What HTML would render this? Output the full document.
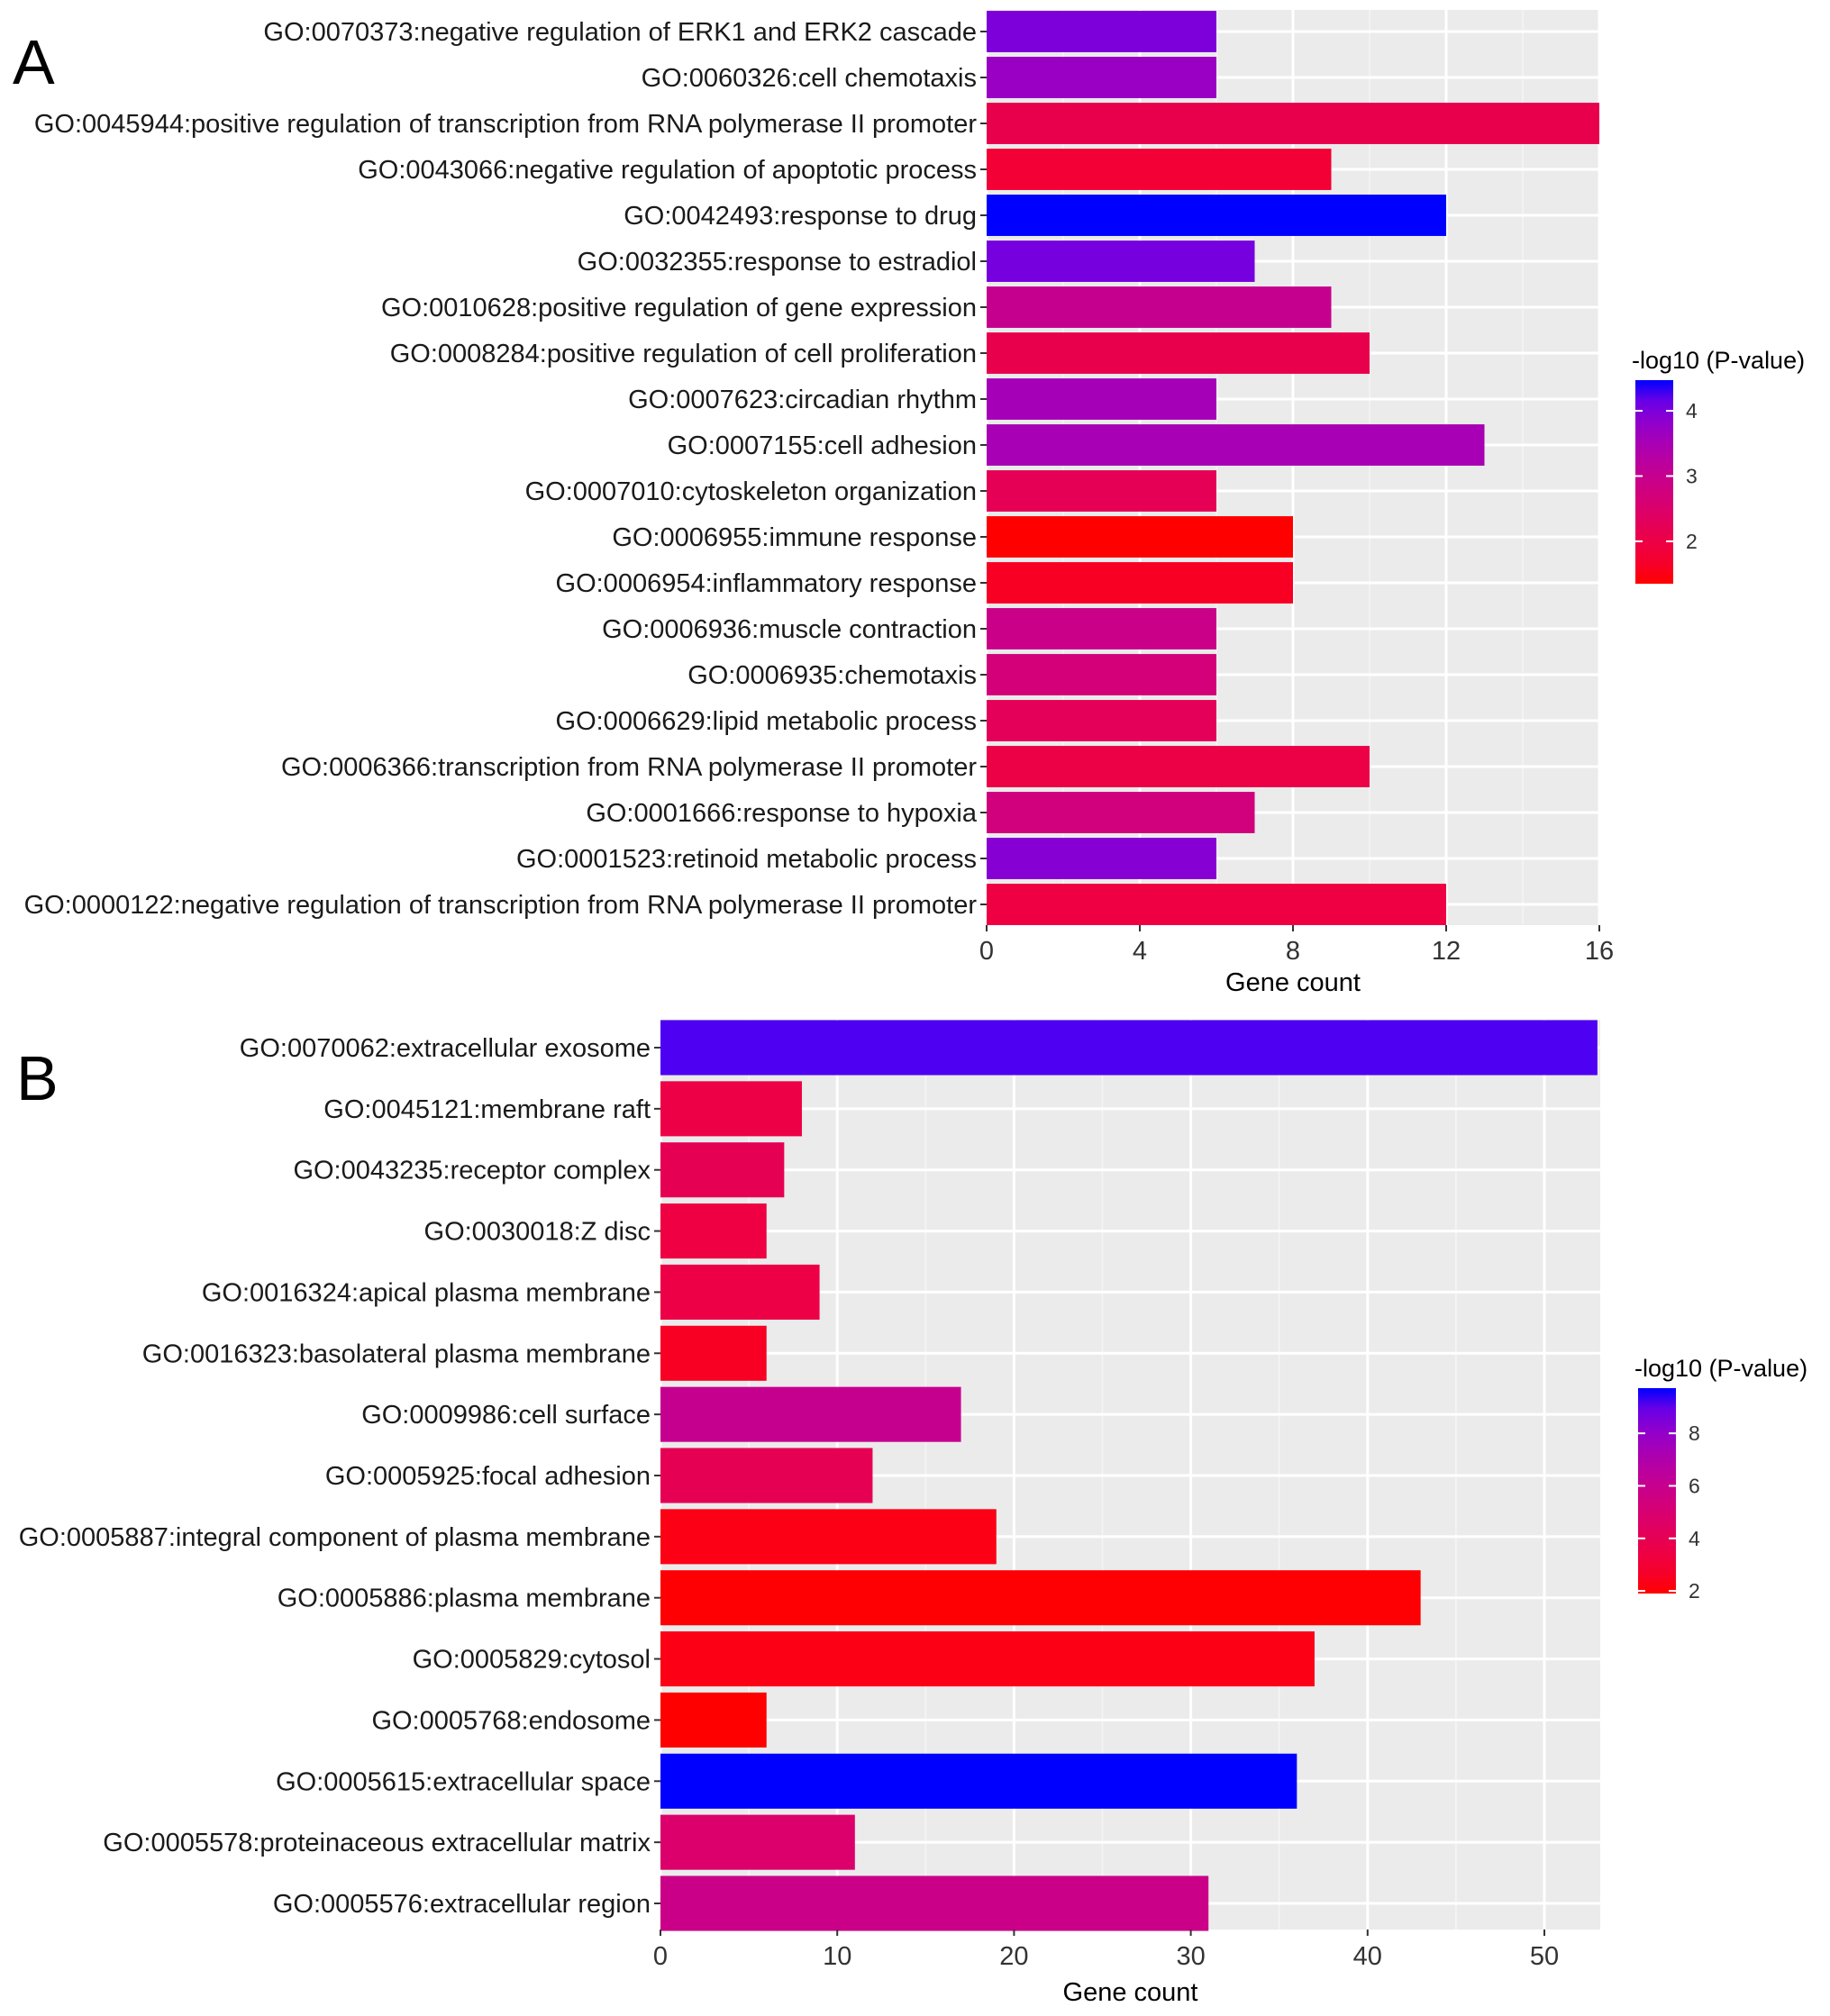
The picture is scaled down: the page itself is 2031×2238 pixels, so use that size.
<!DOCTYPE html>
<html><head><meta charset="utf-8"><style>
html,body{margin:0;padding:0;background:#fff;}
svg{display:block;font-family:"Liberation Sans",Arial,sans-serif;}
</style></head><body>
<svg id="chart" width="2031" height="2238" viewBox="0 0 2031 2238" xmlns="http://www.w3.org/2000/svg"></svg>
<script>
const catsA = ["GO:0070373:negative regulation of ERK1 and ERK2 cascade","GO:0060326:cell chemotaxis","GO:0045944:positive regulation of transcription from RNA polymerase II promoter","GO:0043066:negative regulation of apoptotic process","GO:0042493:response to drug","GO:0032355:response to estradiol","GO:0010628:positive regulation of gene expression","GO:0008284:positive regulation of cell proliferation","GO:0007623:circadian rhythm","GO:0007155:cell adhesion","GO:0007010:cytoskeleton organization","GO:0006955:immune response","GO:0006954:inflammatory response","GO:0006936:muscle contraction","GO:0006935:chemotaxis","GO:0006629:lipid metabolic process","GO:0006366:transcription from RNA polymerase II promoter","GO:0001666:response to hypoxia","GO:0001523:retinoid metabolic process","GO:0000122:negative regulation of transcription from RNA polymerase II promoter"];
const countsA = [6,6,16,9,12,7,9,10,6,13,6,8,8,6,6,6,10,7,6,12];
const pvalsA = [4.0,3.7,2.1,1.8,4.47,4.05,3.0,2.1,3.55,3.5,2.2,1.35,1.6,2.9,2.7,2.25,2.0,2.75,3.9,1.95];
const ticksA = [0,4,8,12,16];
const legendTicksA = [2,3,4];
const catsB = ["GO:0070062:extracellular exosome","GO:0045121:membrane raft","GO:0043235:receptor complex","GO:0030018:Z disc","GO:0016324:apical plasma membrane","GO:0016323:basolateral plasma membrane","GO:0009986:cell surface","GO:0005925:focal adhesion","GO:0005887:integral component of plasma membrane","GO:0005886:plasma membrane","GO:0005829:cytosol","GO:0005768:endosome","GO:0005615:extracellular space","GO:0005578:proteinaceous extracellular matrix","GO:0005576:extracellular region"];
const countsB = [53,8,7,6,9,6,17,12,19,43,37,6,36,11,31];
const pvalsB = [9.3,3.5,4.0,3.4,3.5,2.5,6.0,4.0,2.2,1.95,2.2,1.9,9.72,4.8,5.8];
const ticksB = [0,10,20,30,40,50];
const legendTicksB = [2,4,6,8];

const NS="http://www.w3.org/2000/svg";
const svg=document.getElementById('chart');
function el(tag,attrs,parent,text){const e=document.createElementNS(NS,tag);for(const k in attrs)e.setAttribute(k,attrs[k]);if(text!==undefined)e.textContent=text;(parent||svg).appendChild(e);return e;}

function srgb2lin(c){c/=255;return c<=0.04045?c/12.92:Math.pow((c+0.055)/1.055,2.4);}
function lin2srgb(c){c=c<=0.0031308?12.92*c:1.055*Math.pow(c,1/2.4)-0.055;return Math.round(Math.max(0,Math.min(1,c))*255);}
function toLab(r,g,b){r=srgb2lin(r);g=srgb2lin(g);b=srgb2lin(b);let x=(0.4124*r+0.3576*g+0.1805*b)/0.95047,y=0.2126*r+0.7152*g+0.0722*b,z=(0.0193*r+0.1192*g+0.9505*b)/1.08883;const f=t=>t>0.008856?Math.cbrt(t):7.787*t+16/116;x=f(x);y=f(y);z=f(z);return[116*y-16,500*(x-y),200*(y-z)];}
function fromLab(L,a,bb){let y=(L+16)/116,x=a/500+y,z=y-bb/200;const fi=t=>t*t*t>0.008856?t*t*t:(t-16/116)/7.787;x=fi(x)*0.95047;y=fi(y);z=fi(z)*1.08883;const r=3.2406*x-1.5372*y-0.4986*z,g=-0.9689*x+1.8758*y+0.0415*z,b=0.0557*x-0.2040*y+1.0570*z;return`rgb(${lin2srgb(r)},${lin2srgb(g)},${lin2srgb(b)})`;}
const LR=toLab(255,0,0),LB=toLab(0,0,255);
function col(t){t=Math.max(0,Math.min(1,t));return fromLab(LR[0]+(LB[0]-LR[0])*t,LR[1]+(LB[1]-LR[1])*t,LR[2]+(LB[2]-LR[2])*t);}

function panel(o){
  const g=el('g',{});
  const xs=v=>o.x0+(v-0)*(o.x1-o.x0)/o.xmax;
  const n=o.cats.length;
  const step=(o.lastY-o.firstY)/(n-1);
  const ys=i=>o.firstY+i*step;
  const bg=el('rect',{x:o.x0,y:o.top,width:o.right-o.x0,height:o.bottom-o.top,fill:'#EBEBEB'},g);
  
  for(let i=0;i<o.ticks.length;i++){
    const m=o.ticks[i]+o.minor;
    if(xs(m)<o.right) el('line',{x1:xs(m),x2:xs(m),y1:o.top,y2:o.bottom,stroke:'#F5F5F5','stroke-width':1.5},g);
    el('line',{x1:xs(o.ticks[i]),x2:xs(o.ticks[i]),y1:o.top,y2:o.bottom,stroke:'#fff','stroke-width':3},g);
  }
  for(let i=0;i<n;i++) el('line',{x1:o.x0,x2:o.right,y1:ys(i),y2:ys(i),stroke:'#fff','stroke-width':3},g);
  const bh=step*0.9;
  const tg=el('g',{},g);
  for(let i=0;i<n;i++){
    const r=el('rect',{x:o.x0,y:ys(i)-bh/2,width:xs(o.counts[i])-o.x0,height:bh,fill:col((o.pvals[i]-o.lmin)/(o.lmax-o.lmin))},g);
    
    
    el('line',{x1:o.x0-7,x2:o.x0,y1:ys(i),y2:ys(i),stroke:'#333','stroke-width':2},g);
    const t=el('text',{x:(o.x0-11)/o.sx,y:ys(i)+10,'text-anchor':'end','font-size':o.fs,fill:'#1a1a1a',transform:`scale(${o.sx},1)`},tg,o.cats[i]);
    
    
  }
  for(const v of o.ticks){
    el('line',{x1:xs(v),x2:xs(v),y1:o.bottom,y2:o.bottom+7,stroke:'#333','stroke-width':2},g);
    const t=el('text',{x:xs(v),y:o.bottom+o.tickDy,'text-anchor':'middle','font-size':29,fill:'#333'},g,String(v));
    
    
  }
  const xt=el('text',{x:(o.x0+o.right)/2,y:o.bottom+o.titleDy,'text-anchor':'middle','font-size':29,fill:'#000'},g,'Gene count');
  
  const lg=el('g',{},g);
  const lt=el('text',{x:o.lx-4,y:o.ltop-13,'font-size':27,fill:'#000'},lg,'-log10 (P-value)');
  
  const gid='grad'+o.name;
  const defs=el('defs',{},lg);
  const gr=el('linearGradient',{id:gid,x1:0,y1:1,x2:0,y2:0},defs);
  for(let k=0;k<=10;k++) el('stop',{offset:k/10,'stop-color':col(k/10)},gr);
  el('rect',{x:o.lx,y:o.ltop,width:42,height:o.lbot-o.ltop,fill:`url(#${gid})`},lg);
  const ly=v=>o.lbot-(v-o.lmin)*(o.lbot-o.ltop)/(o.lmax-o.lmin);
  for(const v of o.lticks){
    el('line',{x1:o.lx,x2:o.lx+8,y1:ly(v),y2:ly(v),stroke:'#fff','stroke-width':2},lg);
    el('line',{x1:o.lx+34,x2:o.lx+42,y1:ly(v),y2:ly(v),stroke:'#fff','stroke-width':2},lg);
    const t=el('text',{x:o.lx+56,y:ly(v)+8,'font-size':23,fill:'#333'},lg,String(v));
    
  }
}

panel({name:'panel-a',cats:catsA,counts:countsA,pvals:pvalsA,ticks:ticksA,minor:2,x0:1095,x1:1775,xmax:16,right:1775,top:11,bottom:1027,firstY:35,lastY:1004,fs:29,sx:1,tickDy:38,titleDy:73,lx:1815,ltop:422,lbot:648,lmin:1.35,lmax:4.47,lticks:legendTicksA});
panel({name:'panel-b',cats:catsB,counts:countsB,pvals:pvalsB,ticks:ticksB,minor:5,x0:733,x1:1714,xmax:50,right:1776,top:1132,bottom:2142,firstY:1163,lastY:2113,fs:29,sx:1,tickDy:39,titleDy:79,lx:1818,ltop:1541,lbot:1769,lmin:1.9,lmax:9.72,lticks:legendTicksB});

const A=el('text',{x:14,y:93,'font-size':70,fill:'#000'},svg,'A');

const B=el('text',{x:18,y:1221,'font-size':70,fill:'#000'},svg,'B');

</script>
</body></html>
